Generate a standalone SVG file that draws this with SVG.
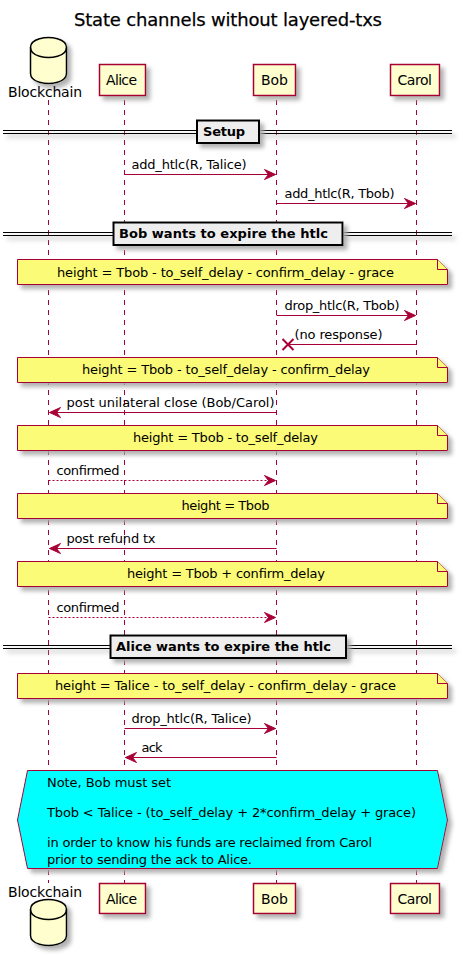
<svg xmlns="http://www.w3.org/2000/svg" width="463" height="956" viewBox="0 0 463 956">
<style>
text{font-family:"DejaVu Sans",sans-serif;font-size:13px;fill:#000}
.p{font-size:14px}
.t{font-size:18px;stroke:#000;stroke-width:.25}
.d{font-weight:bold}
.life{stroke:#A80036;stroke-width:1;stroke-dasharray:5,5}
.box{fill:#FEFECE;stroke:#A80036;stroke-width:1.5}
.db{fill:#FEFECE;stroke:#000;stroke-width:1.5}
.db2{fill:none;stroke:#000;stroke-width:1.5}
.note{fill:#FBFB77;stroke:#A80036;stroke-width:1}
.msg{stroke:#A80036;stroke-width:1;fill:none}
.dash{stroke-dasharray:2,2}
.dl{stroke:#000;stroke-width:1;fill:none}
.dbox{fill:#EEEEEE;stroke:#000;stroke-width:2}
</style>
<defs>
<filter id="s" filterUnits="userSpaceOnUse" x="0" y="0" width="463" height="956"><feGaussianBlur in="SourceAlpha" stdDeviation="2"/><feOffset dx="4" dy="4"/><feColorMatrix type="matrix" values="0 0 0 0 0.4 0 0 0 0 0.4 0 0 0 0 0.4 0 0 0 0.9 0"/><feMerge><feMergeNode/><feMergeNode in="SourceGraphic"/></feMerge></filter>
<marker id="a" markerUnits="userSpaceOnUse" markerWidth="13" markerHeight="12" refX="12" refY="6" orient="auto"><path d="M1,1L12,6L1,11L5,6Z" fill="#A80036" stroke="#A80036"/></marker>
</defs>
<text class="t" x="74" y="26" textLength="308" id="title">State channels without layered-txs</text>
<g id="lifelines">
<line class="life" x1="48.5" y1="100" x2="48.5" y2="883"/>
<line class="life" x1="124.5" y1="100" x2="124.5" y2="883"/>
<line class="life" x1="276.5" y1="100" x2="276.5" y2="883"/>
<line class="life" x1="416.5" y1="100" x2="416.5" y2="883"/>
</g>
<g id="connectors">
<line class="msg" x1="124.5" y1="174.5" x2="275.5" y2="174.5" marker-end="url(#a)"/>
<line class="msg" x1="276.5" y1="203.5" x2="415.5" y2="203.5" marker-end="url(#a)"/>
<line class="msg" x1="276.5" y1="315.5" x2="415.5" y2="315.5" marker-end="url(#a)"/>
<line class="msg" x1="416.5" y1="344.5" x2="288" y2="344.5"/>
<path d="M282.5,339L293.5,350M282.5,350L293.5,339" stroke="#A80036" stroke-width="2" fill="none"/>
<line class="msg" x1="276.5" y1="412.5" x2="49.5" y2="412.5" marker-end="url(#a)"/>
<line class="msg dash" x1="48.5" y1="480.5" x2="275.5" y2="480.5" marker-end="url(#a)"/>
<line class="msg" x1="276.5" y1="548.5" x2="49.5" y2="548.5" marker-end="url(#a)"/>
<line class="msg dash" x1="48.5" y1="617.5" x2="275.5" y2="617.5" marker-end="url(#a)"/>
<line class="msg" x1="124.5" y1="728.5" x2="275.5" y2="728.5" marker-end="url(#a)"/>
<line class="msg" x1="276.5" y1="757.5" x2="125.5" y2="757.5" marker-end="url(#a)"/>
</g>
<g id="labels">
<text x="131.5" y="169" textLength="115">add_htlc(R, Talice)</text>
<text x="284.5" y="198" textLength="110">add_htlc(R, Tbob)</text>
<text x="284.5" y="310" textLength="115">drop_htlc(R, Tbob)</text>
<text x="294.5" y="339" textLength="88">(no response)</text>
<text x="66.5" y="407" textLength="208">post unilateral close (Bob/Carol)</text>
<text x="56.5" y="475" textLength="63">confirmed</text>
<text x="66.5" y="543" textLength="89">post refund tx</text>
<text x="56.5" y="612" textLength="63">confirmed</text>
<text x="131.5" y="723" textLength="120">drop_htlc(R, Talice)</text>
<text x="141.5" y="752" textLength="21">ack</text>
</g>
<g id="div-setup">
<path class="dl" d="M3,130.5H452M3,133.5H452" filter="url(#s)"/>
<rect class="dbox" x="197" y="120.5" width="62" height="22.5" filter="url(#s)"/>
<text class="d" x="203" y="136" textLength="42">Setup</text>
</g>
<g id="div-bob">
<path class="dl" d="M3,232.5H452M3,235.5H452" filter="url(#s)"/>
<rect class="dbox" x="113.5" y="222.5" width="229" height="22.5" filter="url(#s)"/>
<text class="d" x="119" y="238" textLength="209">Bob wants to expire the htlc</text>
</g>
<g id="div-alice">
<path class="dl" d="M3,645.5H452M3,648.5H452" filter="url(#s)"/>
<rect class="dbox" x="110.5" y="635.5" width="235.5" height="22.5" filter="url(#s)"/>
<text class="d" x="116" y="651" textLength="215">Alice wants to expire the htlc</text>
</g>
<g id="note1"><path class="note" d="M17.5,259.5H437.5L447.5,269.5V284.5H17.5Z" filter="url(#s)"/><path class="note" d="M437.5,259.5V269.5H447.5"/><text x="57" y="277" textLength="337">height = Tbob - to_self_delay - confirm_delay - grace</text></g>
<g id="note2"><path class="note" d="M17.5,357.5H437.5L447.5,367.5V382.5H17.5Z" filter="url(#s)"/><path class="note" d="M437.5,357.5V367.5H447.5"/><text x="82" y="374" textLength="288">height = Tbob - to_self_delay - confirm_delay</text></g>
<g id="note3"><path class="note" d="M17.5,425.5H437.5L447.5,435.5V450.5H17.5Z" filter="url(#s)"/><path class="note" d="M437.5,425.5V435.5H447.5"/><text x="133" y="442" textLength="185">height = Tbob - to_self_delay</text></g>
<g id="note4"><path class="note" d="M17.5,493.5H437.5L447.5,503.5V518.5H17.5Z" filter="url(#s)"/><path class="note" d="M437.5,493.5V503.5H447.5"/><text x="181.5" y="510" textLength="88">height = Tbob</text></g>
<g id="note5"><path class="note" d="M17.5,561.5H437.5L447.5,571.5V586.5H17.5Z" filter="url(#s)"/><path class="note" d="M437.5,561.5V571.5H447.5"/><text x="127" y="578" textLength="198">height = Tbob + confirm_delay</text></g>
<g id="note6"><path class="note" d="M17.5,673.5H437.5L447.5,683.5V698.5H17.5Z" filter="url(#s)"/><path class="note" d="M437.5,673.5V683.5H447.5"/><text x="55" y="690" textLength="341">height = Talice - to_self_delay - confirm_delay - grace</text></g>
<g id="note7"><path d="M27.5,770.5H437.5L447.5,820L437.5,868.5H27.5L17.5,820Z" fill="#00FFFF" stroke="#A80036" filter="url(#s)"/>
<text x="47" y="787" textLength="124">Note, Bob must set</text>
<text x="47" y="817" textLength="369">Tbob &lt; Talice - (to_self_delay + 2*confirm_delay + grace)</text>
<text x="47" y="847" textLength="325">in order to know his funds are reclaimed from Carol</text>
<text x="47" y="864" textLength="205">prior to sending the ack to Alice.</text></g>
<g id="blockchain-top"><path class="db" d="M30.5,47.5C30.5,37.5 48.5,37.5 48.5,37.5C48.5,37.5 66.5,37.5 66.5,47.5V73.5C66.5,83.5 48.5,83.5 48.5,83.5C48.5,83.5 30.5,83.5 30.5,73.5Z" filter="url(#s)"/><path class="db2" d="M30.5,47.5C30.5,57.5 48.5,57.5 48.5,57.5C48.5,57.5 66.5,57.5 66.5,47.5"/><text class="p" x="8" y="97" textLength="74">Blockchain</text></g>
<g id="alice-top"><rect class="box" x="99.5" y="64.5" width="46" height="31" filter="url(#s)"/><text class="p" x="106" y="85" textLength="31">Alice</text></g>
<g id="bob-top"><rect class="box" x="253.5" y="64.5" width="42" height="31" filter="url(#s)"/><text class="p" x="261" y="85" textLength="27">Bob</text></g>
<g id="carol-top"><rect class="box" x="390.5" y="64.5" width="49" height="31" filter="url(#s)"/><text class="p" x="397.5" y="85" textLength="34.5">Carol</text></g>
<g id="blockchain-bottom"><path class="db" d="M30.5,909.5C30.5,899.5 48.5,899.5 48.5,899.5C48.5,899.5 66.5,899.5 66.5,909.5V935.5C66.5,945.5 48.5,945.5 48.5,945.5C48.5,945.5 30.5,945.5 30.5,935.5Z" filter="url(#s)"/><path class="db2" d="M30.5,909.5C30.5,919.5 48.5,919.5 48.5,919.5C48.5,919.5 66.5,919.5 66.5,909.5"/><text class="p" x="8" y="897" textLength="74">Blockchain</text></g>
<g id="alice-bottom"><rect class="box" x="99.5" y="883.5" width="46" height="30" filter="url(#s)"/><text class="p" x="106" y="904" textLength="31">Alice</text></g>
<g id="bob-bottom"><rect class="box" x="253.5" y="883.5" width="42" height="30" filter="url(#s)"/><text class="p" x="261" y="904" textLength="27">Bob</text></g>
<g id="carol-bottom"><rect class="box" x="390.5" y="883.5" width="49" height="30" filter="url(#s)"/><text class="p" x="397.5" y="904" textLength="34.5">Carol</text></g>
</svg>
